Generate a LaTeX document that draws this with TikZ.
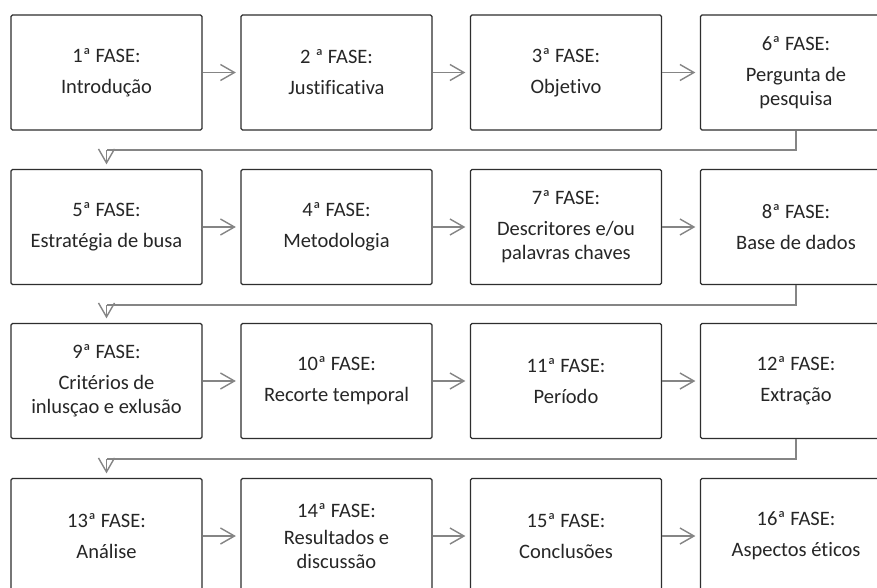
\documentclass[tikz,border=0pt]{standalone}
\usepackage{fontspec}
\setmainfont{Carlito}[Ligatures=NoCommon]
\usetikzlibrary{arrows.meta}
\definecolor{txt}{HTML}{262626}
\definecolor{boxc}{HTML}{2E2E2E}
\definecolor{arrc}{HTML}{858585}
\begin{document}
\begin{tikzpicture}[x=1pt,y=-1pt,
  phase/.style={draw=boxc, line width=1.3pt, rounded corners=1.5pt,
    minimum width=191pt, minimum height=115pt, inner sep=0pt,
    align=center, text=txt, font=\fontsize{20.5}{24}\selectfont},
  flow/.style={draw=arrc, line width=1.4pt,
    -{Straight Barb[length=14pt,width=16pt,line width=1.4pt]}, shorten >=4.5pt},
  link/.style={draw=arrc, line width=1.4pt}]
\clip (0,0) rectangle (877,587);
\fill[white] (0,0) rectangle (877,587);
% row 1
\node[phase] (p1) at (106.5,72.5) {1ª FASE:\\[7pt]Introdução};
\node[phase] (p2) at (336.5,72.5) {2 ª FASE:\\[7pt]Justificativa};
\node[phase] (p3) at (566,72.5) {3ª FASE:\\[7pt]Objetivo};
\node[phase] (p6) at (796,72.5) {6ª FASE:\\[7pt]Pergunta de\\pesquisa};
% row 2
\node[phase] (p5) at (106.5,227) {5ª FASE:\\[7pt]Estratégia de busa};
\node[phase] (p4) at (336.5,227) {4ª FASE:\\[7pt]Metodologia};
\node[phase] (p7) at (566,227) {7ª FASE:\\[7pt]Descritores e/ou\\palavras chaves};
\node[phase] (p8) at (796,227) {8ª FASE:\\[7pt]Base de dados};
% row 3
\node[phase] (p9) at (106.5,381) {9ª FASE:\\[7pt]Critérios de\\inlusçao e exlusão};
\node[phase] (p10) at (336.5,381) {10ª FASE:\\[7pt]Recorte temporal};
\node[phase] (p11) at (566,381) {11ª FASE:\\[7pt]Período};
\node[phase] (p12) at (796,381) {12ª FASE:\\[7pt]Extração};
% row 4
\node[phase] (p13) at (106.5,536) {13ª FASE:\\[7pt]Análise};
\node[phase] (p14) at (336.5,536) {14ª FASE:\\[3pt]Resultados e\\discussão};
\node[phase] (p15) at (566,536) {15ª FASE:\\[7pt]Conclusões};
\node[phase] (p16) at (796,536) {16ª FASE:\\[7pt]Aspectos éticos};
% horizontal arrows
\draw[flow] (p1) -- (p2);
\draw[flow] (p2) -- (p3);
\draw[flow] (p3) -- (p6);
\draw[flow] (p5) -- (p4);
\draw[flow] (p4) -- (p7);
\draw[flow] (p7) -- (p8);
\draw[flow] (p9) -- (p10);
\draw[flow] (p10) -- (p11);
\draw[flow] (p11) -- (p12);
\draw[flow] (p13) -- (p14);
\draw[flow] (p14) -- (p15);
\draw[flow] (p15) -- (p16);
% row transitions
\coordinate (a1) at (796,150);
\coordinate (b1) at (106.5,150);
\coordinate (a2) at (796,305);
\coordinate (b2) at (106.5,305);
\coordinate (a3) at (796,459);
\coordinate (b3) at (106.5,459);
\draw[link] (p6.south) -- (a1) -- (b1);
\draw[flow] (b1) -- (p5.north);
\draw[link] (p8.south) -- (a2) -- (b2);
\draw[flow] (b2) -- (p9.north);
\draw[link] (p12.south) -- (a3) -- (b3);
\draw[flow] (b3) -- (p13.north);
\end{tikzpicture}
\end{document}
